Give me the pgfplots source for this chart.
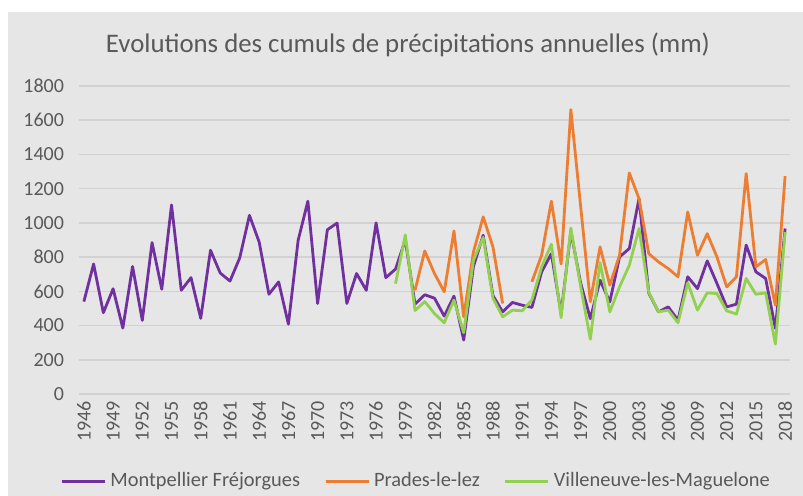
\documentclass[border=0pt]{standalone}
\usepackage{fontspec}
\setmainfont{Carlito}
\usepackage{pgfplots}
\usepackage{pgfplotstable}
\pgfplotsset{compat=1.18}
\definecolor{bg}{HTML}{E6E6E6}
\definecolor{gridc}{HTML}{D2D2D2}
\definecolor{txt}{HTML}{595959}
\definecolor{cpurple}{HTML}{7030A0}
\definecolor{corange}{HTML}{ED7D31}
\definecolor{cgreen}{HTML}{92D050}

\pgfplotstableread{
year val
1946 540
1947 760
1948 475
1949 615
1950 385
1951 745
1952 430
1953 885
1954 612
1955 1105
1956 606
1957 680
1958 442
1959 840
1960 707
1961 660
1962 795
1963 1044
1964 888
1965 583
1966 655
1967 408
1968 898
1969 1127
1970 529
1971 960
1972 999
1973 529
1974 704
1975 606
1976 1000
1977 680
1978 730
1979 900
1980 525
1981 580
1982 560
1983 455
1984 572
1985 315
1986 745
1987 928
1988 575
1989 480
1990 535
1991 519
1992 506
1993 714
1994 820
1995 470
1996 950
1997 650
1998 440
1999 665
2000 538
2001 801
2002 850
2003 1142
2004 590
2005 480
2006 509
2007 432
2008 685
2009 616
2010 778
2011 646
2012 509
2013 525
2014 870
2015 714
2016 675
2017 383
2018 967
}\montpellier

\pgfplotstableread{
year val
1980 606
1981 836
1982 704
1983 597
1984 953
1985 451
1986 831
1987 1035
1988 860
1989 529
1990 nan
1991 nan
1992 656
1993 811
1994 1127
1995 760
1996 1662
1997 1100
1998 540
1999 860
2000 636
2001 811
2002 1292
2003 1142
2004 820
2005 772
2006 733
2007 685
2008 1064
2009 811
2010 937
2011 801
2012 626
2013 685
2014 1288
2015 743
2016 786
2017 519
2018 1273
}\prades

\pgfplotstableread{
year val
1978 645
1979 930
1980 488
1981 540
1982 470
1983 416
1984 549
1985 358
1986 782
1987 915
1988 560
1989 451
1990 490
1991 486
1992 549
1993 743
1994 875
1995 446
1996 970
1997 630
1998 320
1999 768
2000 480
2001 626
2002 752
2003 967
2004 595
2005 480
2006 490
2007 416
2008 650
2009 490
2010 591
2011 587
2012 486
2013 467
2014 675
2015 583
2016 591
2017 292
2018 947
}\villeneuve

\begin{document}
\begin{tikzpicture}
\path[use as bounding box, fill=white] (0pt,0pt) rectangle (401.5pt,248pt);
\fill[bg] (4pt,0pt) rectangle (401.5pt,242pt);
\node[text=txt, font=\fontsize{13.4}{15}\selectfont] at (204pt,225.5pt) {Evolutions des cumuls de précipitations annuelles (mm)};
\begin{axis}[
  at={(39.5pt,51pt)}, anchor=south west,
  scale only axis, width=355.5pt, height=154pt,
  xmin=1945.5, xmax=2018.5, ymin=0, ymax=1800,
  xtick={1946,1949,...,2018}, ytick={0,200,...,1800},
  ymajorgrids, major grid style={gridc, line width=0.75pt},
  axis line style={draw=none}, major tick length=0pt,
  tick label style={font=\fontsize{10}{12}\selectfont, text=txt},
  /pgf/number format/assume math mode=true,
  /pgf/number format/1000 sep={},
  xticklabel style={rotate=90, anchor=east, xshift=0pt},
  yticklabel style={anchor=east, xshift=-4pt},
  unbounded coords=jump,
  legend style={at={(0.4755,-0.2825)}, anchor=center, draw=none, fill=none,
    legend columns=3, font=\fontsize{10.2}{12}\selectfont, text=txt,
    /tikz/every even column/.append style={column sep=10pt}},
  legend image code/.code={\draw[#1, line width=1.5pt] (0pt,0pt) -- (21.5pt,0pt);},
  every axis plot/.append style={line width=1.4pt, line join=round, mark=none},
]
\addplot[cpurple] table[x=year, y=val] {\montpellier};
\addlegendentry{Montpellier Fréjorgues}
\addplot[corange] table[x=year, y=val] {\prades};
\addlegendentry{Prades-le-lez}
\addplot[cgreen] table[x=year, y=val] {\villeneuve};
\addlegendentry{Villeneuve-les-Maguelone}
\end{axis}
\end{tikzpicture}
\end{document}
